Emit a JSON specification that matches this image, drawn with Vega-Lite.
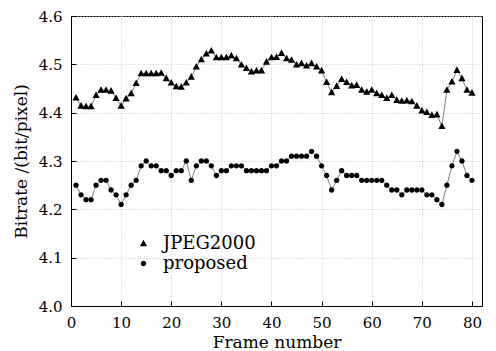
{
  "$schema": "https://vega.github.io/schema/vega-lite/v6.json",
  "width": 411,
  "height": 290,
  "autosize": "none",
  "padding": {"left": 71, "top": 16, "right": 14, "bottom": 45},
  "background": "white",
  "config": {
    "view": {"stroke": "black", "strokeWidth": 1},
    "font": "DejaVu Serif",
    "axis": {
      "domainColor": "black",
      "tickColor": "black",
      "labelColor": "black",
      "titleColor": "black",
      "labelFont": "DejaVu Serif",
      "titleFont": "DejaVu Serif",
      "labelFontSize": 15,
      "titleFontSize": 17,
      "titleFontWeight": "normal",
      "gridColor": "#c8c8c8",
      "gridDash": [1, 2]
    }
  },
  "data": {
    "values": [
      {"frame": 1, "JPEG2000": 4.431, "proposed": 4.25},
      {"frame": 2, "JPEG2000": 4.414, "proposed": 4.23},
      {"frame": 3, "JPEG2000": 4.413, "proposed": 4.22},
      {"frame": 4, "JPEG2000": 4.413, "proposed": 4.22},
      {"frame": 5, "JPEG2000": 4.436, "proposed": 4.25},
      {"frame": 6, "JPEG2000": 4.447, "proposed": 4.26},
      {"frame": 7, "JPEG2000": 4.447, "proposed": 4.26},
      {"frame": 8, "JPEG2000": 4.445, "proposed": 4.24},
      {"frame": 9, "JPEG2000": 4.43, "proposed": 4.23},
      {"frame": 10, "JPEG2000": 4.414, "proposed": 4.21},
      {"frame": 11, "JPEG2000": 4.429, "proposed": 4.23},
      {"frame": 12, "JPEG2000": 4.44, "proposed": 4.25},
      {"frame": 13, "JPEG2000": 4.461, "proposed": 4.26},
      {"frame": 14, "JPEG2000": 4.481, "proposed": 4.29},
      {"frame": 15, "JPEG2000": 4.481, "proposed": 4.3},
      {"frame": 16, "JPEG2000": 4.481, "proposed": 4.29},
      {"frame": 17, "JPEG2000": 4.481, "proposed": 4.29},
      {"frame": 18, "JPEG2000": 4.482, "proposed": 4.28},
      {"frame": 19, "JPEG2000": 4.471, "proposed": 4.28},
      {"frame": 20, "JPEG2000": 4.462, "proposed": 4.27},
      {"frame": 21, "JPEG2000": 4.454, "proposed": 4.28},
      {"frame": 22, "JPEG2000": 4.453, "proposed": 4.28},
      {"frame": 23, "JPEG2000": 4.462, "proposed": 4.3},
      {"frame": 24, "JPEG2000": 4.474, "proposed": 4.26},
      {"frame": 25, "JPEG2000": 4.495, "proposed": 4.29},
      {"frame": 26, "JPEG2000": 4.51, "proposed": 4.3},
      {"frame": 27, "JPEG2000": 4.522, "proposed": 4.3},
      {"frame": 28, "JPEG2000": 4.528, "proposed": 4.29},
      {"frame": 29, "JPEG2000": 4.514, "proposed": 4.27},
      {"frame": 30, "JPEG2000": 4.514, "proposed": 4.28},
      {"frame": 31, "JPEG2000": 4.514, "proposed": 4.28},
      {"frame": 32, "JPEG2000": 4.518, "proposed": 4.29},
      {"frame": 33, "JPEG2000": 4.512, "proposed": 4.29},
      {"frame": 34, "JPEG2000": 4.499, "proposed": 4.29},
      {"frame": 35, "JPEG2000": 4.492, "proposed": 4.28},
      {"frame": 36, "JPEG2000": 4.485, "proposed": 4.28},
      {"frame": 37, "JPEG2000": 4.487, "proposed": 4.28},
      {"frame": 38, "JPEG2000": 4.487, "proposed": 4.28},
      {"frame": 39, "JPEG2000": 4.505, "proposed": 4.28},
      {"frame": 40, "JPEG2000": 4.514, "proposed": 4.29},
      {"frame": 41, "JPEG2000": 4.515, "proposed": 4.29},
      {"frame": 42, "JPEG2000": 4.523, "proposed": 4.3},
      {"frame": 43, "JPEG2000": 4.512, "proposed": 4.3},
      {"frame": 44, "JPEG2000": 4.509, "proposed": 4.31},
      {"frame": 45, "JPEG2000": 4.499, "proposed": 4.31},
      {"frame": 46, "JPEG2000": 4.502, "proposed": 4.31},
      {"frame": 47, "JPEG2000": 4.497, "proposed": 4.31},
      {"frame": 48, "JPEG2000": 4.502, "proposed": 4.32},
      {"frame": 49, "JPEG2000": 4.495, "proposed": 4.31},
      {"frame": 50, "JPEG2000": 4.487, "proposed": 4.29},
      {"frame": 51, "JPEG2000": 4.463, "proposed": 4.27},
      {"frame": 52, "JPEG2000": 4.442, "proposed": 4.24},
      {"frame": 53, "JPEG2000": 4.455, "proposed": 4.26},
      {"frame": 54, "JPEG2000": 4.469, "proposed": 4.28},
      {"frame": 55, "JPEG2000": 4.463, "proposed": 4.27},
      {"frame": 56, "JPEG2000": 4.456, "proposed": 4.27},
      {"frame": 57, "JPEG2000": 4.457, "proposed": 4.27},
      {"frame": 58, "JPEG2000": 4.447, "proposed": 4.26},
      {"frame": 59, "JPEG2000": 4.443, "proposed": 4.26},
      {"frame": 60, "JPEG2000": 4.447, "proposed": 4.26},
      {"frame": 61, "JPEG2000": 4.44, "proposed": 4.26},
      {"frame": 62, "JPEG2000": 4.436, "proposed": 4.26},
      {"frame": 63, "JPEG2000": 4.43, "proposed": 4.25},
      {"frame": 64, "JPEG2000": 4.436, "proposed": 4.24},
      {"frame": 65, "JPEG2000": 4.426, "proposed": 4.24},
      {"frame": 66, "JPEG2000": 4.424, "proposed": 4.23},
      {"frame": 67, "JPEG2000": 4.425, "proposed": 4.24},
      {"frame": 68, "JPEG2000": 4.423, "proposed": 4.24},
      {"frame": 69, "JPEG2000": 4.414, "proposed": 4.24},
      {"frame": 70, "JPEG2000": 4.404, "proposed": 4.24},
      {"frame": 71, "JPEG2000": 4.401, "proposed": 4.23},
      {"frame": 72, "JPEG2000": 4.395, "proposed": 4.23},
      {"frame": 73, "JPEG2000": 4.396, "proposed": 4.22},
      {"frame": 74, "JPEG2000": 4.372, "proposed": 4.21},
      {"frame": 75, "JPEG2000": 4.447, "proposed": 4.25},
      {"frame": 76, "JPEG2000": 4.464, "proposed": 4.29},
      {"frame": 77, "JPEG2000": 4.488, "proposed": 4.32},
      {"frame": 78, "JPEG2000": 4.471, "proposed": 4.3},
      {"frame": 79, "JPEG2000": 4.447, "proposed": 4.27},
      {"frame": 80, "JPEG2000": 4.441, "proposed": 4.26}
    ]
  },
  "transform": [{"fold": ["JPEG2000", "proposed"], "as": ["series", "bitrate"]}],
  "encoding": {
    "x": {
      "field": "frame", "type": "quantitative",
      "scale": {"domain": [0, 82], "nice": false, "zero": false},
      "axis": {
        "orient": "bottom",
        "title": "Frame number",
        "values": [0, 10, 20, 30, 40, 50, 60, 70, 80],
        "tickSize": -5,
        "labelPadding": 14,
        "labelFlush": false,
        "titlePadding": 4,
        "grid": true
      }
    },
    "y": {
      "field": "bitrate", "type": "quantitative",
      "scale": {"domain": [4.0, 4.6], "nice": false, "zero": false},
      "axis": {
        "orient": "left",
        "title": "Bitrate /(bit/pixel)",
        "values": [4.0, 4.1, 4.2, 4.3, 4.4, 4.5, 4.6],
        "format": ".1f",
        "tickSize": -5,
        "labelPadding": 14,
        "labelFlush": false,
        "titlePadding": 8,
        "grid": true
      }
    }
  },
  "layer": [
    {
      "mark": {"type": "line", "color": "#808080", "strokeWidth": 1},
      "encoding": {
        "detail": {"field": "series", "type": "nominal"}
      }
    },
    {
      "mark": {"type": "point", "filled": true, "color": "black", "size": 400, "opacity": 1, "strokeWidth": 0},
      "encoding": {
        "shape": {
          "field": "series", "type": "nominal",
          "scale": {
            "domain": ["JPEG2000", "proposed"],
            "range": [
              "M-1.8,0H1.75M-0.36,0.28L0,-0.38L0.36,0.28Z",
              "M-1.8,0H1.75M0.27,0A0.27,0.27 0 1,1 -0.27,0A0.27,0.27 0 1,1 0.27,0Z"
            ]
          },
          "legend": {
            "title": null,
            "orient": "none",
            "legendX": 62,
            "legendY": 217,
            "symbolSize": 400,
            "symbolStrokeColor": "#808080",
            "symbolStrokeWidth": 1,
            "symbolFillColor": "black",
            "labelFont": "DejaVu Serif",
            "labelFontSize": 18,
            "labelColor": "black",
            "labelOffset": 9,
            "rowPadding": 0,
            "padding": 0
          }
        }
      }
    }
  ]
}
